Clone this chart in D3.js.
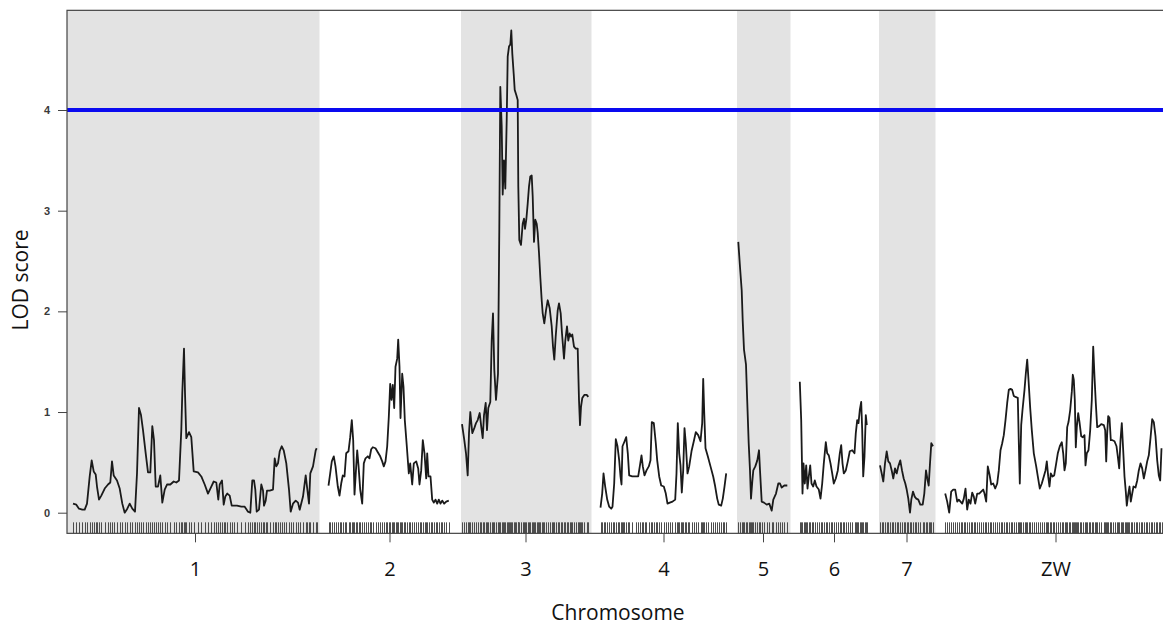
<!DOCTYPE html>
<html><head><meta charset="utf-8">
<script src="https://cdn.jsdelivr.net/npm/d3@7"></script>
<style>body{margin:0;background:#fff}svg{display:block}</style>
</head><body>
<svg id="chart" width="1163" height="627"></svg>
<script>
const chrNames = ["1","2","3","4","5","6","7","ZW"];
const chrLengths = [244,122,127,126,50,69,53,222];
const yTicks = [0,1,2,3,4];
const threshold = 4;

const lodChr1 = [[0,0.09],[3.3,0.08],[6,0.04],[9.3,0.03],[11.7,0.03],[14,0.09],[16.7,0.36],[18.7,0.52],[20.7,0.41],[22.7,0.38],[24,0.26],[26,0.13],[28.3,0.17],[31.7,0.24],[35,0.28],[37.3,0.30],[39,0.51],[40.7,0.37],[44,0.32],[46.7,0.24],[49.3,0.09],[51.7,0.0],[54.3,0.04],[56.7,0.09],[59.3,0.04],[62,0.01],[64,0.39],[66,1.04],[68,0.97],[70,0.82],[72.7,0.59],[75,0.40],[77.3,0.40],[79.3,0.86],[81,0.72],[82.7,0.26],[85,0.26],[87.3,0.37],[89.3,0.10],[91.7,0.23],[94,0.28],[97.3,0.28],[100.7,0.31],[103.3,0.30],[106,0.32],[108.3,0.82],[109.3,1.19],[111,1.63],[112,1.19],[113.3,0.74],[116,0.80],[118.3,0.75],[120.7,0.41],[125,0.40],[128.3,0.36],[131.7,0.28],[135,0.19],[138.3,0.26],[140.7,0.31],[143.3,0.30],[145.3,0.13],[146.7,0.28],[149,0.32],[150.7,0.08],[152.3,0.16],[154.3,0.19],[156.7,0.17],[158.7,0.07],[160.7,0.07],[164,0.07],[168.3,0.06],[171.7,0.06],[175,0.01],[177.3,0.0],[179.3,0.32],[181,0.32],[182.3,0.23],[183.7,0.01],[186,0.03],[188.3,0.28],[190,0.22],[191,0.07],[192.7,0.12],[194,0.22],[196.7,0.22],[200,0.23],[201.7,0.54],[203.3,0.46],[205,0.49],[206.7,0.61],[208.7,0.66],[210.7,0.62],[213.3,0.49],[216,0.23],[217.7,0.01],[220,0.09],[222.7,0.12],[225,0.10],[226.7,0.03],[230,0.16],[232.7,0.37],[234,0.26],[236,0.09],[237.3,0.39],[240,0.46],[242.7,0.62],[243.7,0.64]];

const lodChr2 = [[0,0.27],[1.7,0.39],[3.3,0.51],[5.3,0.56],[7,0.46],[9.3,0.26],[11,0.17],[12.7,0.29],[14.3,0.37],[16,0.36],[17.7,0.59],[20,0.61],[21.7,0.75],[23.3,0.92],[24.7,0.72],[26,0.18],[27.7,0.46],[28.7,0.62],[30,0.47],[31.7,0.23],[33.7,0.09],[35.3,0.49],[37,0.54],[39.3,0.56],[41,0.54],[42.7,0.63],[44.3,0.65],[47,0.64],[49.3,0.60],[51.7,0.56],[53.7,0.51],[55.3,0.46],[57,0.51],[58.7,0.66],[60.3,0.95],[61.7,1.28],[63,1.12],[64.3,1.27],[65.7,1.04],[67,1.45],[68.7,1.53],[69.7,1.72],[71,1.45],[72,0.94],[73.7,1.38],[75,1.25],[76.3,0.92],[78.3,0.66],[80.3,0.39],[81.7,0.49],[83.7,0.28],[85.3,0.49],[87.7,0.51],[89.7,0.44],[91,0.28],[92.7,0.42],[94.3,0.72],[96,0.59],[97.7,0.34],[98.7,0.59],[100,0.36],[102,0.36],[103.7,0.13],[105.3,0.10],[107,0.13],[108.7,0.09],[110.3,0.13],[112,0.09],[113.7,0.12],[115.7,0.09],[117.7,0.11],[120.3,0.12]];

const lodChr3 = [[0,0.88],[2.3,0.72],[4,0.59],[5.7,0.37],[7,0.79],[8.3,1.0],[10.3,0.79],[12.3,0.84],[14,0.89],[15.7,0.92],[17.7,0.99],[19.3,0.85],[20.7,0.74],[22,0.97],[23.7,1.09],[25,0.82],[26.3,1.04],[28.3,1.10],[29.7,1.71],[31,1.98],[32.3,1.42],[34,1.12],[36,1.38],[37.3,2.81],[38.3,4.23],[39.7,3.84],[40.7,3.16],[42,3.50],[43.3,3.22],[44.7,3.90],[45.7,4.53],[47,4.63],[48.3,4.65],[49.3,4.79],[50.3,4.56],[51.7,4.36],[52.7,4.20],[54.3,4.15],[55.7,4.10],[56.3,3.24],[57.3,2.71],[59,2.66],[60.7,2.87],[62,2.92],[63,2.82],[64.3,2.91],[65.7,3.07],[67,3.24],[68.3,3.34],[69.7,3.35],[70.7,3.14],[72,2.69],[73.3,2.91],[74.7,2.87],[75.7,2.78],[77,2.58],[78.3,2.34],[79.7,2.11],[80.7,1.98],[82.3,1.88],[84,2.01],[85.7,2.11],[87.7,2.03],[89.7,1.85],[91,1.65],[92.3,1.52],[93.7,1.75],[95.7,2.01],[97,2.08],[98.7,1.98],[100,1.78],[102,1.53],[103.3,1.71],[105,1.85],[106.3,1.71],[107.7,1.78],[109,1.75],[110.3,1.77],[112,1.65],[113.7,1.63],[115.7,1.63],[117,1.12],[118,0.87],[119,1.05],[120.3,1.14],[122.3,1.17],[124.7,1.17],[126.3,1.15]];

const lodChr4 = [[0,0.05],[1.7,0.19],[3,0.39],[4.7,0.26],[6.7,0.13],[8.7,0.06],[10.7,0.04],[12,0.06],[13.7,0.29],[15.3,0.73],[17,0.66],[18.7,0.52],[20,0.36],[21,0.28],[22,0.66],[23.7,0.70],[25.7,0.75],[27.3,0.59],[28.7,0.37],[31.7,0.36],[35,0.36],[37.7,0.36],[39.3,0.46],[41,0.57],[42.3,0.46],[44,0.37],[46,0.42],[48.3,0.46],[50,0.52],[51.3,0.90],[53.3,0.89],[55.3,0.69],[56.7,0.52],[58.7,0.36],[60.7,0.27],[63.3,0.26],[65.3,0.19],[67,0.09],[69.3,0.10],[72,0.11],[74.7,0.13],[76,0.39],[77.3,0.89],[78.7,0.59],[80,0.47],[81.3,0.20],[82.7,0.42],[84,0.84],[85.3,0.69],[87,0.39],[88.7,0.46],[91,0.61],[93.3,0.71],[95.3,0.80],[97.7,0.77],[100,0.71],[101.7,0.89],[102.7,1.33],[103.7,1.0],[105,0.64],[107.3,0.56],[110,0.46],[112.7,0.36],[114.7,0.26],[116.7,0.14],[118.3,0.08],[120.7,0.07],[122.3,0.14],[124,0.26],[125.7,0.39]];

const lodChr5 = [[0.3,2.69],[2,2.44],[3.7,2.21],[4.7,1.91],[6,1.62],[8,1.47],[9.3,1.09],[10.7,0.69],[12,0.42],[13,0.14],[14.3,0.31],[15.3,0.42],[17.3,0.46],[19.3,0.52],[21,0.62],[22,0.42],[23.7,0.11],[26,0.10],[28.7,0.08],[31.3,0.09],[33.7,0.02],[35.3,0.13],[38,0.19],[40.3,0.29],[42,0.29],[43.7,0.25],[46.3,0.27],[49.3,0.27]];

const lodChr6 = [[0.3,1.30],[1.7,0.92],[3,0.19],[4,0.49],[5.3,0.29],[6.7,0.47],[8,0.24],[9.3,0.36],[10.7,0.47],[12,0.29],[13.7,0.26],[15.3,0.32],[17,0.26],[19.3,0.23],[21,0.14],[22.7,0.29],[24.3,0.49],[26.3,0.70],[27.7,0.59],[29.3,0.57],[31,0.49],[32.7,0.39],[34.3,0.29],[36.3,0.34],[38.3,0.42],[40.3,0.59],[41.7,0.67],[43,0.49],[44.3,0.39],[46.3,0.42],[48.3,0.51],[50.3,0.61],[52.7,0.62],[55,0.59],[56.3,0.79],[57.7,0.92],[59,0.89],[60.3,1.02],[61.7,1.10],[62.7,0.82],[63.7,0.36],[65,0.56],[66.3,0.97],[67.3,0.87]];

const lodChr7 = [[0,0.47],[1.7,0.39],[3.3,0.31],[5,0.49],[6.7,0.61],[8.3,0.51],[10,0.49],[11.7,0.42],[13.3,0.34],[15,0.44],[16.7,0.39],[18.3,0.46],[20.3,0.52],[22,0.42],[23.7,0.34],[25.3,0.29],[26.7,0.23],[28.3,0.14],[30,0.0],[31.3,0.13],[33,0.21],[34.7,0.16],[36.3,0.14],[38.3,0.13],[40.3,0.08],[42.7,0.08],[44.3,0.19],[46,0.42],[47.3,0.34],[48.7,0.27],[50,0.49],[51.3,0.69],[53,0.66]];

const lodChrZW = [[0.7,0.19],[2.7,0.11],[4.7,0.0],[6.7,0.21],[8.7,0.23],[10.7,0.23],[12.7,0.11],[14.3,0.13],[16,0.11],[17.7,0.09],[19.3,0.14],[21,0.24],[22.7,0.03],[24.3,0.13],[26,0.09],[27.7,0.20],[29.3,0.16],[30.7,0.09],[32.7,0.19],[34.7,0.19],[36.7,0.21],[38.7,0.23],[40,0.19],[41.7,0.11],[43.3,0.46],[45,0.38],[46.7,0.28],[48.7,0.29],[50.7,0.24],[52.7,0.29],[54.3,0.42],[56,0.62],[57.7,0.69],[59.3,0.77],[61,0.92],[62.7,1.09],[64.3,1.22],[66,1.23],[67.7,1.22],[69.3,1.16],[71,1.15],[73.3,1.14],[74.3,0.70],[75.3,0.29],[76.7,0.87],[78,1.02],[80,1.22],[81.3,1.38],[82.7,1.52],[84,1.32],[85.7,1.04],[87.3,0.82],[89.3,0.59],[91.7,0.46],[93.3,0.36],[95.3,0.24],[97.3,0.29],[99.3,0.36],[101,0.42],[102.3,0.51],[103.7,0.36],[105,0.26],[106.3,0.39],[108,0.36],[109.7,0.37],[111.7,0.49],[113.3,0.59],[115.3,0.66],[117.3,0.70],[118.7,0.59],[120,0.42],[121.3,0.49],[122.7,0.85],[124,0.90],[125.7,1.02],[127.3,1.20],[128.3,1.37],[129.3,1.32],[130.3,1.12],[131.3,0.65],[132.3,0.85],[133.7,0.99],[135,0.90],[136.7,0.76],[138.3,0.75],[140,0.77],[141,0.47],[142.3,0.59],[144,0.62],[145.7,0.82],[147.3,1.12],[148.7,1.65],[150,1.35],[151.3,1.09],[152.7,0.85],[154.7,0.86],[156.7,0.88],[159.3,0.87],[160.7,0.82],[161.7,0.51],[162.7,0.79],[163.7,0.96],[165,0.94],[166.3,0.72],[168,0.72],[170,0.71],[172,0.66],[173.3,0.56],[174.7,0.44],[176,0.72],[177.3,0.89],[178.7,0.62],[180,0.36],[181.3,0.21],[182.3,0.07],[183.7,0.18],[185,0.26],[186.3,0.11],[187.7,0.19],[189,0.26],[191,0.25],[192.7,0.32],[194.3,0.42],[196,0.49],[197.7,0.44],[199.3,0.34],[201,0.42],[202.7,0.51],[204.3,0.57],[206,0.74],[207.7,0.93],[209.3,0.90],[211,0.76],[212.7,0.52],[214.3,0.37],[215.7,0.32],[217,0.64]];

const lodByChr = [lodChr1, lodChr2, lodChr3, lodChr4, lodChr5, lodChr6, lodChr7, lodChrZW];

// layout in map units
const gap = 11.5, lead = 6;
const starts = [];
let acc = lead;
chrLengths.forEach((L, i) => { starts.push(acc); acc += L + gap; });
const total = acc - gap + lead;

const left = 67;
const x = d3.scaleLinear().domain([0, total]).range([left, left + total]);
const y = d3.scaleLinear().domain([0, 4]).range([512.7, 110]);
const yTop = y(4.99), yBot = y(-0.205);
const xRight = x(total);

const svg = d3.select("#chart");

// chromosome shading
svg.append("g").selectAll("rect")
  .data(chrLengths.map((L, i) => ({i, L})).filter(d => d.i % 2 === 0))
  .join("rect")
  .attr("x", d => d.i === 0 ? x(0) : x(starts[d.i]) - 1)
  .attr("width", d => x(starts[d.i] + d.L) + 2.5 - (d.i === 0 ? x(0) : x(starts[d.i]) - 1))
  .attr("y", yTop).attr("height", yBot - yTop)
  .attr("fill", "#e3e3e3");

// rug (marker positions)
const rug = svg.append("g").attr("stroke", "#4d4d4d").attr("stroke-width", 1);
lodByChr.forEach((arr, i) => {
  rug.selectAll(null).data(arr).join("line")
    .attr("x1", d => Math.round(x(starts[i] + d[0])) + 0.5)
    .attr("x2", d => Math.round(x(starts[i] + d[0])) + 0.5)
    .attr("y1", yBot - 11).attr("y2", yBot);
});

// LOD curves
const line = d3.line().x(d => d.x).y(d => d.y);
lodByChr.forEach((arr, i) => {
  svg.append("path")
    .datum(arr.map(d => ({x: x(starts[i] + d[0]), y: y(d[1])})))
    .attr("d", line)
    .attr("fill", "none")
    .attr("stroke", "#1a1a1a")
    .attr("stroke-width", 1.8)
    .attr("stroke-linejoin", "round");
});

// threshold line
svg.append("line")
  .attr("x1", left).attr("x2", xRight)
  .attr("y1", y(threshold)).attr("y2", y(threshold))
  .attr("stroke", "#0a0af0").attr("stroke-width", 4);

// frame
svg.append("rect")
  .attr("x", left).attr("y", yTop)
  .attr("width", xRight - left).attr("height", yBot - yTop)
  .attr("fill", "none").attr("stroke", "#444").attr("stroke-width", 1.2);

// y axis
const yAxis = svg.append("g")
  .attr("transform", `translate(${left},0)`)
  .call(d3.axisLeft(y).tickValues(yTicks).tickSize(9).tickPadding(8).tickFormat(d3.format("d")));
yAxis.select(".domain").remove();
yAxis.selectAll("line").attr("stroke", "#444");
yAxis.selectAll("text").attr("font-family", "Liberation Sans, Arial, sans-serif")
  .attr("font-size", 11).attr("font-weight", "bold").attr("fill", "#3a3a3a");

// x axis
const mids = chrLengths.map((L, i) => starts[i] + L / 2);
const xAxis = svg.append("g")
  .attr("transform", `translate(0,${yBot})`)
  .call(d3.axisBottom(x).tickValues(mids).tickSize(9).tickFormat((d, i) => chrNames[i]));
xAxis.select(".domain").remove();
xAxis.selectAll("line").attr("stroke", "#444");
xAxis.selectAll("text").attr("font-family", "Open Sans, sans-serif")
  .attr("font-size", 20).attr("fill", "#111").attr("dy", 0).attr("y", 43);

// axis titles
svg.append("text").attr("x", 618).attr("y", 620).attr("text-anchor", "middle")
  .attr("font-family", "Open Sans, sans-serif").attr("font-size", 21).attr("fill", "#111")
  .text("Chromosome");
svg.append("text").attr("transform", "translate(28,280) rotate(-90)").attr("text-anchor", "middle")
  .attr("font-family", "Open Sans, sans-serif").attr("font-size", 21).attr("fill", "#111")
  .text("LOD score");
</script>
</body></html>
